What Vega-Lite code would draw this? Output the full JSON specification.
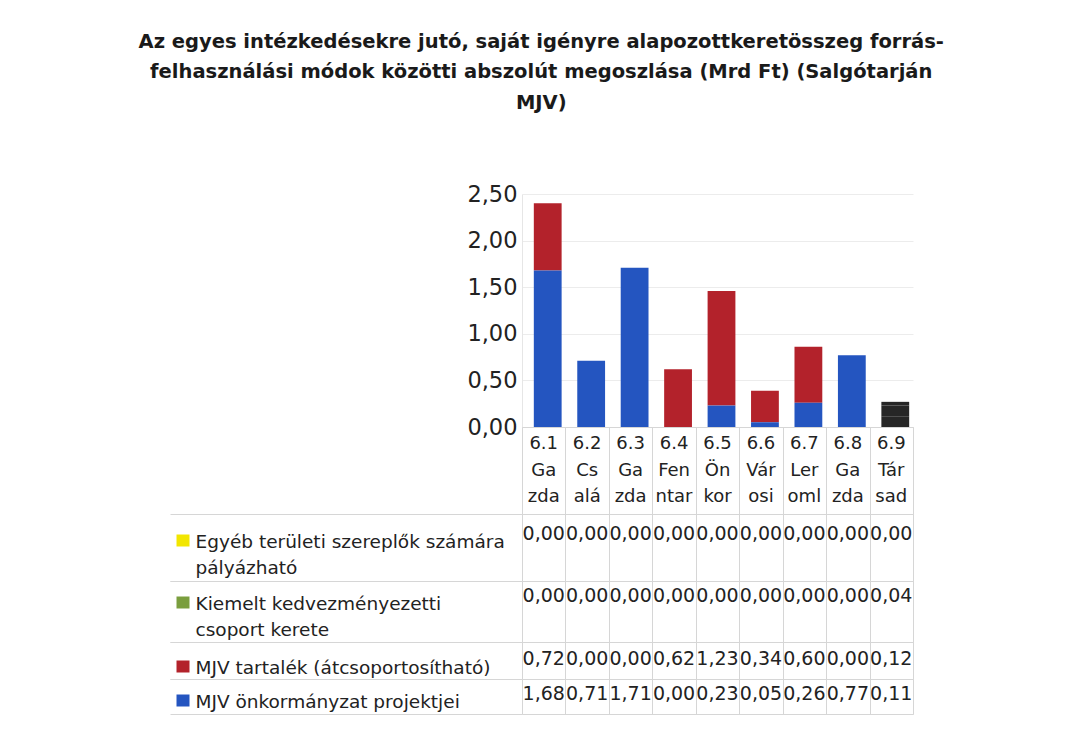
{
  "$schema": "https://vega.github.io/schema/vega-lite/v6.json",
  "padding": {"left": 138, "top": 31, "right": 5, "bottom": 5},
  "bounds": "flush",
  "config": {
    "locale": {"number": {"decimal": ",", "thousands": " ", "grouping": [3], "currency": ["", " Ft"]}},
    "font": "DejaVu Sans",
    "view": {"stroke": "#d6d6d6"},
    "concat": {"spacing": 0},
    "axis": {"labelColor": "#222222", "labelFont": "DejaVu Sans"},
    "text": {"font": "DejaVu Sans", "color": "#222222"}
  },
  "title": {
    "text": ["Az egyes intézkedésekre jutó, saját igényre alapozottkeretösszeg forrás-", "felhasználási módok közötti abszolút megoszlása (Mrd Ft) (Salgótarján", "MJV)"],
    "fontSize": 19.5, "fontWeight": "bold", "lineHeight": 30.5, "color": "#1a1a1a", "anchor": "middle", "offset": 70, "font": "DejaVu Sans"
  },
  "data": {"values": [
    {"cat": "6.1|Ga|zda", "series": "Egyéb területi szereplők számára pályázható", "value": 0.00},
    {"cat": "6.1|Ga|zda", "series": "Kiemelt kedvezményezetti csoport kerete", "value": 0.00},
    {"cat": "6.1|Ga|zda", "series": "MJV tartalék (átcsoportosítható)", "value": 0.72},
    {"cat": "6.1|Ga|zda", "series": "MJV önkormányzat projektjei", "value": 1.68},
    {"cat": "6.2|Cs|alá", "series": "Egyéb területi szereplők számára pályázható", "value": 0.00},
    {"cat": "6.2|Cs|alá", "series": "Kiemelt kedvezményezetti csoport kerete", "value": 0.00},
    {"cat": "6.2|Cs|alá", "series": "MJV tartalék (átcsoportosítható)", "value": 0.00},
    {"cat": "6.2|Cs|alá", "series": "MJV önkormányzat projektjei", "value": 0.71},
    {"cat": "6.3|Ga|zda", "series": "Egyéb területi szereplők számára pályázható", "value": 0.00},
    {"cat": "6.3|Ga|zda", "series": "Kiemelt kedvezményezetti csoport kerete", "value": 0.00},
    {"cat": "6.3|Ga|zda", "series": "MJV tartalék (átcsoportosítható)", "value": 0.00},
    {"cat": "6.3|Ga|zda", "series": "MJV önkormányzat projektjei", "value": 1.71},
    {"cat": "6.4|Fen|ntar", "series": "Egyéb területi szereplők számára pályázható", "value": 0.00},
    {"cat": "6.4|Fen|ntar", "series": "Kiemelt kedvezményezetti csoport kerete", "value": 0.00},
    {"cat": "6.4|Fen|ntar", "series": "MJV tartalék (átcsoportosítható)", "value": 0.62},
    {"cat": "6.4|Fen|ntar", "series": "MJV önkormányzat projektjei", "value": 0.00},
    {"cat": "6.5|Ön|kor", "series": "Egyéb területi szereplők számára pályázható", "value": 0.00},
    {"cat": "6.5|Ön|kor", "series": "Kiemelt kedvezményezetti csoport kerete", "value": 0.00},
    {"cat": "6.5|Ön|kor", "series": "MJV tartalék (átcsoportosítható)", "value": 1.23},
    {"cat": "6.5|Ön|kor", "series": "MJV önkormányzat projektjei", "value": 0.23},
    {"cat": "6.6|Vár|osi", "series": "Egyéb területi szereplők számára pályázható", "value": 0.00},
    {"cat": "6.6|Vár|osi", "series": "Kiemelt kedvezményezetti csoport kerete", "value": 0.00},
    {"cat": "6.6|Vár|osi", "series": "MJV tartalék (átcsoportosítható)", "value": 0.34},
    {"cat": "6.6|Vár|osi", "series": "MJV önkormányzat projektjei", "value": 0.05},
    {"cat": "6.7|Ler|oml", "series": "Egyéb területi szereplők számára pályázható", "value": 0.00},
    {"cat": "6.7|Ler|oml", "series": "Kiemelt kedvezményezetti csoport kerete", "value": 0.00},
    {"cat": "6.7|Ler|oml", "series": "MJV tartalék (átcsoportosítható)", "value": 0.60},
    {"cat": "6.7|Ler|oml", "series": "MJV önkormányzat projektjei", "value": 0.26},
    {"cat": "6.8|Ga|zda", "series": "Egyéb területi szereplők számára pályázható", "value": 0.00},
    {"cat": "6.8|Ga|zda", "series": "Kiemelt kedvezményezetti csoport kerete", "value": 0.00},
    {"cat": "6.8|Ga|zda", "series": "MJV tartalék (átcsoportosítható)", "value": 0.00},
    {"cat": "6.8|Ga|zda", "series": "MJV önkormányzat projektjei", "value": 0.77},
    {"cat": "6.9|Tár|sad", "series": "Egyéb területi szereplők számára pályázható", "value": 0.00},
    {"cat": "6.9|Tár|sad", "series": "Kiemelt kedvezményezetti csoport kerete", "value": 0.04},
    {"cat": "6.9|Tár|sad", "series": "MJV tartalék (átcsoportosítható)", "value": 0.12},
    {"cat": "6.9|Tár|sad", "series": "MJV önkormányzat projektjei", "value": 0.11}
  ]},
  "spacing": 0,
  "vconcat": [
    {
      "width": 391, "height": 233,
      "view": {"stroke": null},
      "mark": {"type": "bar", "xOffset": 4},
      "encoding": {
        "x": {"field": "cat", "type": "nominal", "sort": null, "scale": {"paddingInner": 0.36, "paddingOuter": 0.18}, "axis": null},
        "y": {"field": "value", "type": "quantitative", "stack": "zero", "scale": {"domain": [0, 2.5], "nice": false},
          "axis": {"values": [0, 0.5, 1, 1.5, 2, 2.5], "format": ".2f", "title": null, "labelFontSize": 22.5, "ticks": false, "labelPadding": 5, "domainColor": "#e6e6e6", "gridColor": "#ececec"}},
        "color": {
          "condition": {"test": "datum.cat === '6.9|Tár|sad'", "value": "#262626"},
          "field": "series", "type": "nominal", "legend": null,
          "scale": {"domain": ["MJV önkormányzat projektjei", "MJV tartalék (átcsoportosítható)", "Kiemelt kedvezményezetti csoport kerete", "Egyéb területi szereplők számára pályázható"],
                    "range": ["#2455c0", "#b3222b", "#7a9e3e", "#f2e600"]}
        },
        "order": {"field": "series", "sort": "descending"}
      }
    },
    {
      "width": 391, "height": 87,
      "transform": [{"filter": "datum.series === 'MJV önkormányzat projektjei'"}],
      "mark": {"type": "text", "lineBreak": "|", "fontSize": 18, "lineHeight": 26.5, "baseline": "middle", "dy": -26.5},
      "encoding": {
        "x": {"field": "cat", "type": "nominal", "sort": null, "scale": {"paddingInner": 0, "paddingOuter": 0},
          "axis": {"grid": true, "tickBand": "extent", "labels": false, "ticks": false, "domain": false, "title": null, "gridColor": "#d6d6d6"}},
        "text": {"field": "cat"}
      }
    },
    {
      "width": 391, "height": 67,
      "transform": [{"filter": "datum.series === 'Egyéb területi szereplők számára pályázható'"}],
      "layer": [
        {
          "mark": {"type": "text", "fontSize": 19, "baseline": "middle", "dy": -13.5},
          "encoding": {
            "x": {"field": "cat", "type": "nominal", "sort": null, "scale": {"paddingInner": 0, "paddingOuter": 0},
              "axis": {"grid": true, "tickBand": "extent", "labels": false, "ticks": false, "domain": false, "title": null, "gridColor": "#d6d6d6"}},
            "y": {"field": "series", "type": "nominal", "scale": {"paddingInner": 0, "paddingOuter": 0},
              "axis": {"orient": "left", "title": null, "domain": false, "grid": false, "offset": 333, "ticks": true, "tickSize": 13, "tickWidth": 12, "tickColor": "#f2e600", "tickOffset": -7.5,
                       "labelAlign": "left", "labelBaseline": "top", "labelOffset": -8, "labelPadding": -19, "labelFontSize": 18.5, "labelLineHeight": 26, "labelLimit": 400,
                       "labelExpr": "split(replace(replace(datum.value, 'számára ', 'számára|'), 'kedvezményezetti ', 'kedvezményezetti|'), '|')"}},
            "text": {"field": "value", "type": "quantitative", "format": ".2f"}
          }
        },
        {
          "mark": {"type": "text", "text": ""},
          "encoding": {
            "y": {"field": "series", "type": "nominal",
              "axis": {"orient": "left", "title": null, "domain": false, "grid": false, "labels": false, "ticks": true, "tickBand": "extent", "tickSize": 352, "tickWidth": 1, "tickColor": "#d6d6d6"}}
          }
        }
      ],
      "resolve": {"axis": {"y": "independent"}}
    },
    {
      "width": 391, "height": 61,
      "transform": [{"filter": "datum.series === 'Kiemelt kedvezményezetti csoport kerete'"}],
      "layer": [
        {
          "mark": {"type": "text", "fontSize": 19, "baseline": "middle", "dy": -15.5},
          "encoding": {
            "x": {"field": "cat", "type": "nominal", "sort": null, "scale": {"paddingInner": 0, "paddingOuter": 0},
              "axis": {"grid": true, "tickBand": "extent", "labels": false, "ticks": false, "domain": false, "title": null, "gridColor": "#d6d6d6"}},
            "y": {"field": "series", "type": "nominal", "scale": {"paddingInner": 0, "paddingOuter": 0},
              "axis": {"orient": "left", "title": null, "domain": false, "grid": false, "offset": 333, "ticks": true, "tickSize": 13, "tickWidth": 12, "tickColor": "#7a9e3e", "tickOffset": -9.5,
                       "labelAlign": "left", "labelBaseline": "top", "labelOffset": -8, "labelPadding": -19, "labelFontSize": 18.5, "labelLineHeight": 26, "labelLimit": 400,
                       "labelExpr": "split(replace(replace(datum.value, 'számára ', 'számára|'), 'kedvezményezetti ', 'kedvezményezetti|'), '|')"}},
            "text": {"field": "value", "type": "quantitative", "format": ".2f"}
          }
        },
        {
          "mark": {"type": "text", "text": ""},
          "encoding": {
            "y": {"field": "series", "type": "nominal",
              "axis": {"orient": "left", "title": null, "domain": false, "grid": false, "labels": false, "ticks": true, "tickBand": "extent", "tickSize": 352, "tickWidth": 1, "tickColor": "#d6d6d6"}}
          }
        }
      ],
      "resolve": {"axis": {"y": "independent"}}
    },
    {
      "width": 391, "height": 37,
      "transform": [{"filter": "datum.series === 'MJV tartalék (átcsoportosítható)'"}],
      "layer": [
        {
          "mark": {"type": "text", "fontSize": 19, "baseline": "middle", "dy": -1.5},
          "encoding": {
            "x": {"field": "cat", "type": "nominal", "sort": null, "scale": {"paddingInner": 0, "paddingOuter": 0},
              "axis": {"grid": true, "tickBand": "extent", "labels": false, "ticks": false, "domain": false, "title": null, "gridColor": "#d6d6d6"}},
            "y": {"field": "series", "type": "nominal", "scale": {"paddingInner": 0, "paddingOuter": 0},
              "axis": {"orient": "left", "title": null, "domain": false, "grid": false, "offset": 333, "ticks": true, "tickSize": 13, "tickWidth": 12, "tickColor": "#b3222b", "tickOffset": 5.5,
                       "labelAlign": "left", "labelBaseline": "top", "labelOffset": -8, "labelPadding": -19, "labelFontSize": 18.5, "labelLineHeight": 26, "labelLimit": 400}},
            "text": {"field": "value", "type": "quantitative", "format": ".2f"}
          }
        },
        {
          "mark": {"type": "text", "text": ""},
          "encoding": {
            "y": {"field": "series", "type": "nominal",
              "axis": {"orient": "left", "title": null, "domain": false, "grid": false, "labels": false, "ticks": true, "tickBand": "extent", "tickSize": 352, "tickWidth": 1, "tickColor": "#d6d6d6"}}
          }
        }
      ],
      "resolve": {"axis": {"y": "independent"}}
    },
    {
      "width": 391, "height": 35,
      "transform": [{"filter": "datum.series === 'MJV önkormányzat projektjei'"}],
      "layer": [
        {
          "mark": {"type": "text", "fontSize": 19, "baseline": "middle", "dy": -2.5},
          "encoding": {
            "x": {"field": "cat", "type": "nominal", "sort": null, "scale": {"paddingInner": 0, "paddingOuter": 0},
              "axis": {"grid": true, "tickBand": "extent", "labels": false, "ticks": false, "domain": false, "title": null, "gridColor": "#d6d6d6"}},
            "y": {"field": "series", "type": "nominal", "scale": {"paddingInner": 0, "paddingOuter": 0},
              "axis": {"orient": "left", "title": null, "domain": false, "grid": false, "offset": 333, "ticks": true, "tickSize": 13, "tickWidth": 12, "tickColor": "#2455c0", "tickOffset": 3.5,
                       "labelAlign": "left", "labelBaseline": "top", "labelOffset": -8, "labelPadding": -19, "labelFontSize": 18.5, "labelLineHeight": 26, "labelLimit": 400}},
            "text": {"field": "value", "type": "quantitative", "format": ".2f"}
          }
        },
        {
          "mark": {"type": "text", "text": ""},
          "encoding": {
            "y": {"field": "series", "type": "nominal",
              "axis": {"orient": "left", "title": null, "domain": false, "grid": false, "labels": false, "ticks": true, "tickBand": "extent", "tickSize": 352, "tickWidth": 1, "tickColor": "#d6d6d6"}}
          }
        }
      ],
      "resolve": {"axis": {"y": "independent"}}
    }
  ]
}
